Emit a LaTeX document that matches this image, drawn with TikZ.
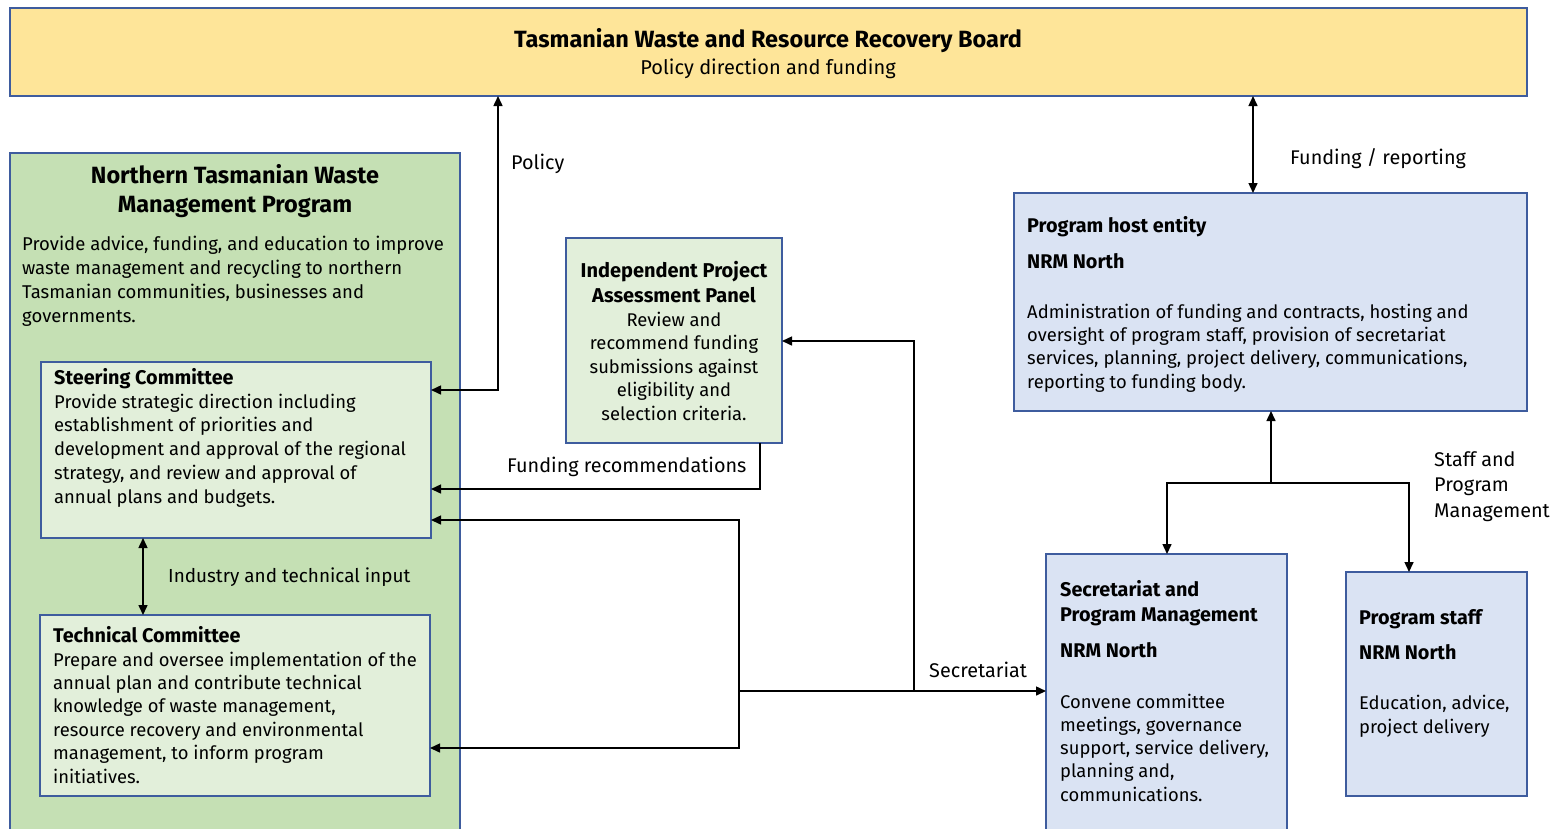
\documentclass[tikz,border=0pt]{standalone}
\usepackage{fontspec}
\setmainfont{Fira Sans}
\usetikzlibrary{arrows.meta}
\definecolor{bordblue}{RGB}{62,92,158}
\definecolor{goldfill}{RGB}{254,229,153}
\definecolor{greenA}{RGB}{197,224,180}
\definecolor{greenB}{RGB}{226,239,218}
\definecolor{blueA}{RGB}{218,227,243}
\begin{document}
\begin{tikzpicture}[x=1pt,y=-1pt,
  box/.style={draw=bordblue, line width=1.6pt, anchor=north west, inner sep=0pt, outer sep=0pt},
  txt/.style={inner sep=0pt, anchor=base west, align=left, font=\fontsize{18.4}{23.6}\selectfont},
  ctxt/.style={inner sep=0pt, anchor=base, align=center, font=\fontsize{18.4}{23.5}\selectfont},
  lbl/.style={inner sep=0pt, anchor=base west, align=left, font=\fontsize{19.8}{25.5}\selectfont},
  hd/.style={inner sep=0pt, anchor=base west, align=left, font=\fontsize{19.8}{25}\selectfont\bfseries},
  bighd/.style={inner sep=0pt, anchor=base, align=center, font=\fontsize{23.5}{29}\selectfont\bfseries},
  conn/.style={line width=1.5pt, -{Triangle[length=10pt,width=9pt]}},
  dbl/.style={line width=1.5pt, {Triangle[length=10pt,width=9pt]}-{Triangle[length=10pt,width=9pt]}},
]
\useasboundingbox (0,0) rectangle (1562,828);
\clip (0,0) rectangle (1562,828);

% boxes
\node[box, fill=goldfill, minimum width=1517pt, minimum height=88pt] (board) at (10,8) {};
\node[box, fill=greenA, minimum width=450pt, minimum height=720pt] (ntwmp) at (10,153) {};
\node[box, fill=greenB, minimum width=390pt, minimum height=176pt] (steer) at (41,362) {};
\node[box, fill=greenB, minimum width=390pt, minimum height=181pt] (tech) at (40,615) {};
\node[box, fill=greenB, minimum width=216pt, minimum height=205pt] (ipap) at (566,238) {};
\node[box, fill=blueA, minimum width=513pt, minimum height=218pt] (host) at (1014,193) {};
\node[box, fill=blueA, minimum width=241pt, minimum height=320pt] (spm) at (1046,554) {};
\node[box, fill=blueA, minimum width=181pt, minimum height=224pt] (staff) at (1346,572) {};

% texts (base anchor = baseline of the LAST line)
\node[bighd] (boardt) at (768,47) {Tasmanian Waste and Resource Recovery Board};
\node[inner sep=0pt, anchor=base, font=\fontsize{20}{24}\selectfont] (boards) at (768,74) {Policy direction and funding};
\node[bighd] (ntt) at (235,212) {Northern Tasmanian Waste\\Management Program};
\node[inner sep=0pt, anchor=base west, align=left, font=\fontsize{18.5}{24}\selectfont] (ntd) at (22,322) {Provide advice, funding, and education to improve\\waste management and recycling to northern\\Tasmanian communities, businesses and\\governments.};
\node[hd] (stt) at (54,384) {Steering Committee};
\node[inner sep=0pt, anchor=base west, align=left, font=\fontsize{18.4}{23.75}\selectfont] (std) at (54,503) {Provide strategic direction including\\establishment of priorities and\\development and approval of the regional\\strategy, and review and approval of\\annual plans and budgets.};
\node[hd] (tct) at (53,642) {Technical Committee};
\node[inner sep=0pt, anchor=base west, align=left, font=\fontsize{18.4}{23.4}\selectfont] (tcd) at (53,783) {Prepare and oversee implementation of the\\annual plan and contribute technical\\knowledge of waste management,\\resource recovery and environmental\\management, to inform program\\initiatives.};
\node[inner sep=0pt, anchor=base, align=center, font=\fontsize{20}{25}\selectfont\bfseries] (ipt) at (674,302) {Independent Project\\Assessment Panel};
\node[ctxt] (ipd) at (674,420) {Review and\\recommend funding\\submissions against\\eligibility and\\selection criteria.};
\node[hd] (ht1) at (1027,232) {Program host entity};
\node[hd] (ht2) at (1027,268) {NRM North};
\node[inner sep=0pt, anchor=base west, align=left, font=\fontsize{18.4}{23.3}\selectfont] (hd1) at (1027,388) {Administration of funding and contracts, hosting and\\oversight of program staff, provision of secretariat\\services, planning, project delivery, communications,\\reporting to funding body.};
\node[hd] (st1) at (1060,621) {Secretariat and\\Program Management};
\node[hd] (st2) at (1060,657) {NRM North};
\node[inner sep=0pt, anchor=base west, align=left, font=\fontsize{18.4}{23.25}\selectfont] (sd1) at (1060,801) {Convene committee\\meetings, governance\\support, service delivery,\\planning and,\\communications.};
\node[hd] (pt1) at (1359,624) {Program staff};
\node[hd] (pt2) at (1359,659) {NRM North};
\node[txt] (pd1) at (1359,733) {Education, advice,\\project delivery};

% labels
\node[lbl] (lpol) at (511,169) {Policy};
\node[lbl] (lfr) at (507,472) {Funding recommendations};
\node[inner sep=0pt, anchor=base west, font=\fontsize{18.9}{24}\selectfont] (lind) at (168,582) {Industry and technical input};
\node[lbl] (lsec) at (929,677) {Secretariat};
\node[lbl] (lfund) at (1290,164) {Funding / reporting};
\node[lbl] (lstaff) at (1434,517) {Staff and\\Program\\Management};

% connectors
\draw[dbl] ([yshift=-28pt]steer.north east) -| ([xshift=488pt]board.south west);
\draw[conn] ([xshift=-22pt]ipap.south east) |- ([yshift=-127pt]steer.north east);
\coordinate (j1) at (739,691);
\coordinate (j2) at (914,691);
\draw[conn] (j1) -- ([yshift=-137pt]spm.north west);
\draw[conn] (j1) |- ([yshift=-158pt]steer.north east);
\draw[conn] (j1) |- ([yshift=-133pt]tech.north east);
\draw[conn] (j2) |- ([yshift=-103pt]ipap.north east);
\coordinate (fr) at ([xshift=239pt]host.north west);
\draw[dbl] (fr) -- (fr |- board.south);
\coordinate (sj) at (1271,483);
\draw[conn] (sj) -- ([xshift=257pt]host.south west);
\draw[conn] (sj) -| ([xshift=121pt]spm.north west);
\draw[conn] (sj) -| ([xshift=63pt]staff.north west);
\coordinate (ia) at ([xshift=102pt]steer.south west);
\draw[dbl] (ia) -- (ia |- tech.north);
\end{tikzpicture}
\end{document}
